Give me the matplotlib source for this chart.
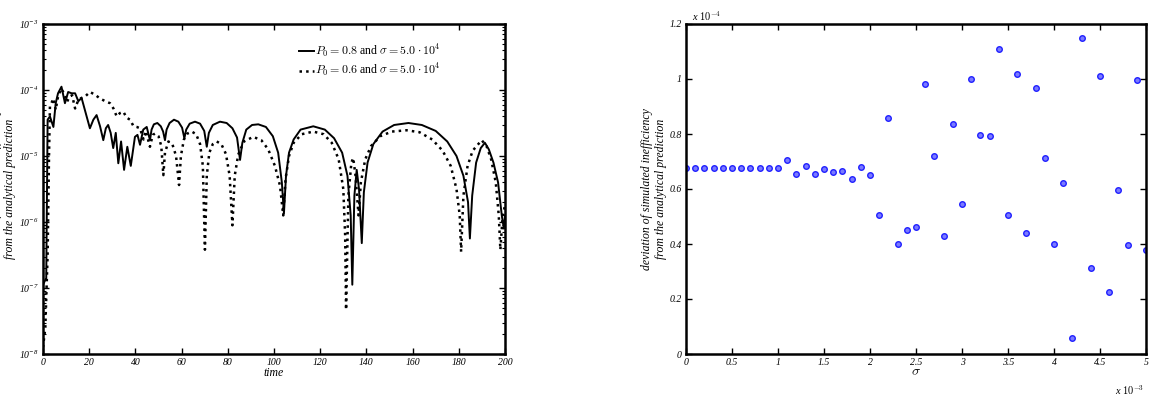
import numpy as np
import matplotlib
matplotlib.use("Agg")
import matplotlib.pyplot as plt
from matplotlib.ticker import LogLocator, NullFormatter, FixedLocator

# --- left panel: deviation vs time (log10 of the deviation)
t_08 = [0, 1.4, 2.0, 3.0, 4.5, 5.5, 6.5, 8.0, 9.5, 10.9, 12.4, 13.9, 15.3, 16.7,
        18.5, 20.3, 21.8, 23.2, 24.7, 26.1, 27.2, 28.2, 29.3, 30.4, 31.5, 32.6,
        33.8, 35.1, 36.5, 38.0, 39.8, 40.9, 42.0, 43.4, 44.9, 46.3,
        47.0, 48.0, 49.5, 51.0, 52.0, 52.8,
        53.5, 54.8, 56.7, 58.6, 60.2, 61.2,
        62.0, 63.5, 65.8, 68.0, 69.8, 70.9,
        71.8, 73.5, 76.6, 79.5, 82.0, 84.0, 85.3,
        86.3, 88.0, 90.5, 93.2, 96.5, 99.5, 101.8, 103.4, 104.3,
        105.2, 106.5, 108.5, 111.5, 117, 122, 126, 129.5, 131.8, 133.2, 133.9,
        134.8, 135.8, 136.8, 138.0,
        138.9, 140.5, 143, 147, 152, 158.2, 164, 170, 175, 179, 182, 184, 184.8,
        185.8, 187.5, 189.5, 191.3, 193, 195, 197, 198.6, 199.5, 200]
lg_08 = [-6.95, -6.85, -4.45, -4.4, -4.56, -4.2, -4.05, -3.95, -4.2, -4.03, -4.05, -4.05, -4.17, -4.12,
         -4.35, -4.58, -4.45, -4.38, -4.55, -4.76, -4.58, -4.53, -4.65, -4.88, -4.65, -5.11,
         -4.78, -5.21, -4.86, -5.15, -4.71, -4.68, -4.83, -4.6, -4.56, -4.76,
         -4.6, -4.52, -4.5, -4.55, -4.63, -4.76,
         -4.6, -4.5, -4.45, -4.48, -4.57, -4.73,
         -4.6, -4.51, -4.48, -4.51, -4.62, -4.86,
         -4.65, -4.53, -4.48, -4.5, -4.58, -4.72, -5.06,
         -4.8, -4.6, -4.53, -4.52, -4.56, -4.7, -4.95, -5.4, -5.87,
         -5.3, -4.95, -4.75, -4.6, -4.55, -4.6, -4.73, -4.95, -5.3, -5.9, -6.95,
         -5.6, -5.21, -5.5, -6.32,
         -5.55, -5.1, -4.82, -4.63, -4.53, -4.5, -4.53, -4.62, -4.78, -5.0, -5.3, -5.7, -6.25,
         -5.6, -5.1, -4.88, -4.8, -4.9, -5.1, -5.4, -5.9, -6.1, -5.9]

t_06 = [0, 1.0, 2.0, 2.6, 3.0, 4.5, 5.5, 6.6, 8.0, 9.0, 10.4, 11.5, 12.6, 13.9, 15.3,
        16.7, 18.2, 20.3, 22.5, 24.7, 27, 29, 30.5, 31.9, 33.3, 34.8, 36.2, 37.7,
        39.2, 40.6, 42, 43.5, 44.5, 46.3, 47.5, 48.5,
        50, 51.2, 52.1,
        52.8, 54.3, 56, 57.6, 58.9,
        59.7, 61, 62.5, 64.4, 66.3, 68, 69.2, 70.1,
        70.9, 72, 73.5, 75.2, 77.2, 79.2, 80.8, 82,
        83, 84.5, 87, 91, 94.5, 97.5, 100.4, 102.6, 104,
        105, 106.5, 108.5, 112, 117, 121.5, 125, 128, 130, 130.8, 131.2,
        132.2, 133.5, 134.3, 135.3, 136.6,
        137.6, 139.5, 142, 146, 151, 157.4, 163, 168.5, 173, 176.5, 179, 180.4, 181,
        182, 183.8, 186, 189.9, 192, 194, 196, 197.3, 198, 199, 200]
lg_06 = [-7.9, -7.6, -6.5, -5.0, -4.25, -4.13, -4.3, -4.08, -3.98, -4.05, -4.18, -4.1, -4.08, -4.28, -4.15,
         -4.12, -4.1, -4.03, -4.07, -4.13, -4.17, -4.2, -4.28, -4.4, -4.35, -4.33, -4.42, -4.45,
         -4.55, -4.56, -4.58, -4.75, -4.62, -4.86, -4.68, -4.66,
         -4.7, -4.85, -5.29,
         -4.95, -4.78, -4.82, -5.0, -5.44,
         -5.0, -4.75, -4.66, -4.63, -4.67, -4.82, -5.15, -6.42,
         -5.3, -4.95, -4.82, -4.78, -4.82, -4.97, -5.3, -6.05,
         -5.3, -4.98, -4.78, -4.71, -4.76, -4.9, -5.15, -5.45, -5.9,
         -5.35, -5.0, -4.8, -4.67, -4.63, -4.67, -4.8, -5.05, -5.5, -6.2, -7.33,
         -5.6, -5.1, -5.03, -5.3, -5.9,
         -5.4, -5.05, -4.85, -4.7, -4.63, -4.61, -4.64, -4.75, -4.92, -5.15, -5.5, -5.9, -6.45,
         -5.6, -5.15, -4.92, -4.76, -4.85, -5.05, -5.4, -5.9, -6.42, -5.9, -5.75]

# --- right panel: deviation vs sigma (sigma in 1e-3, deviation in 1e-4)
sigma = [i / 10 for i in range(51)]
dev = [0.675] * 11 + [0.707, 0.655, 0.684, 0.656, 0.673, 0.663, 0.664, 0.635, 0.681, 0.650,
                      0.505, 0.858, 0.401, 0.450, 0.461, 0.981, 0.719, 0.429, 0.837, 0.545,
                      1.000, 0.798, 0.794, 1.108, 0.504, 1.018, 0.439, 0.967, 0.712, 0.399,
                      0.622, 0.057, 1.148, 0.312, 1.011, 0.224, 0.597, 0.396, 0.996, 0.379]

ylab = "deviation of simulated inefficiency\nfrom the analytical prediction"

plt.rcParams['font.family'] = ['Liberation Serif', 'DejaVu Serif']
plt.rcParams['mathtext.fontset'] = 'cm'
lblfont = dict(style='italic', size=8.5)

fig = plt.figure(figsize=(11.55, 3.96), dpi=100)
ax1 = fig.add_axes([43/1155, 42/396, 462/1155, 330/396])
ax2 = fig.add_axes([686/1155, 42/396, 460/1155, 330/396])

ax1.plot(t_08, 10**np.array(lg_08), '-', color='black', lw=1.4,
         label=r'$P_0 = 0.8$ and $\sigma = 5.0\cdot10^4$')
ax1.plot(t_06, 10**np.array(lg_06), ':', color='black', lw=1.8,
         label=r'$P_0 = 0.6$ and $\sigma = 5.0\cdot10^4$')
ax1.set_yscale('log')
ax1.set_xlim(0, 200)
ax1.set_ylim(1e-8, 1e-3)
ax1.set_xticks(np.arange(0, 201, 20))
ax1.yaxis.set_major_locator(FixedLocator([1e-8, 1e-7, 1e-6, 1e-5, 1e-4, 1e-3]))
ax1.yaxis.set_minor_locator(LogLocator(base=10, subs=np.arange(2, 10)))
ax1.yaxis.set_minor_formatter(NullFormatter())
ax1.set_xlabel('time', labelpad=0, **lblfont)
ax1.set_ylabel(ylab, labelpad=2, **lblfont)
leg = ax1.legend(loc='upper right', bbox_to_anchor=(0.885, 0.975), frameon=False,
                 fontsize=8.6, handlelength=1.3, handletextpad=0.1, labelspacing=0.2)

ax2.plot(sigma, dev, 'o', ms=4, mec='#2020ff', mfc='#7a7aff', mew=1.0, ls='none')
ax2.set_xlim(0, 5)
ax2.set_ylim(0, 1.2)
ax2.set_xticks(np.arange(0, 5.01, 0.5))
ax2.set_xticklabels(['0', '0.5', '1', '1.5', '2', '2.5', '3', '3.5', '4', '4.5', '5'])
ax2.set_yticks(np.arange(0, 1.21, 0.2))
ax2.set_yticklabels(['0', '0.2', '0.4', '0.6', '0.8', '1', '1.2'])
ax2.set_xlabel(r'$\sigma$', labelpad=-1, fontsize=10)
ax2.set_ylabel(ylab, labelpad=2, **lblfont)
ax2.text(0.012, 1.003, r'x $10^{-4}$', transform=ax2.transAxes, fontsize=7.5,
         style='italic', va='bottom', ha='left')
ax2.text(0.995, -0.09, r'x $10^{-3}$', transform=ax2.transAxes, fontsize=7.5,
         style='italic', va='top', ha='right')

for ax in (ax1, ax2):
    for s in ax.spines.values():
        s.set_linewidth(1.8)
    ax.tick_params(which='both', direction='in', top=True, right=True, labelsize=7,
                   pad=3)
    ax.tick_params(which='major', length=4, width=1)
    ax.tick_params(which='minor', length=2, width=0.8)
    for lb in ax.get_xticklabels() + ax.get_yticklabels():
        lb.set_style('italic')

fig.savefig('out.png', dpi=100)
